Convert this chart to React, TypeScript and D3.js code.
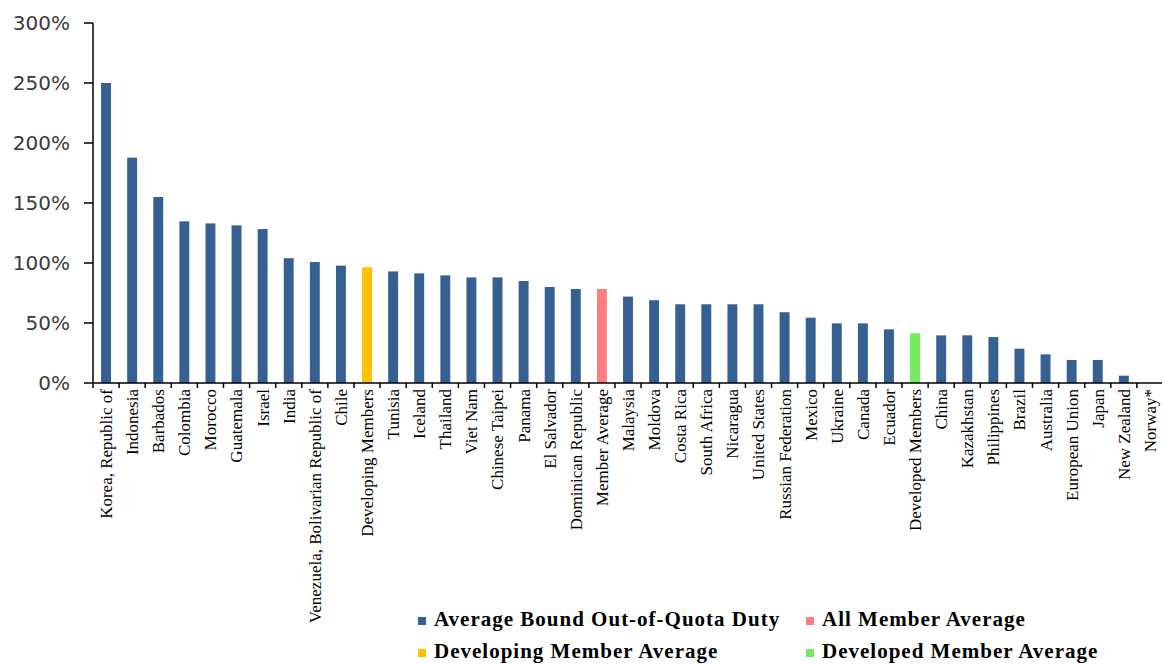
import * as d3 from 'd3';

const categories = [
  'Korea, Republic of', 'Indonesia', 'Barbados', 'Colombia', 'Morocco', 'Guatemala', 'Israel',
  'India', 'Venezuela, Bolivarian Republic of', 'Chile', 'Developing Members', 'Tunisia', 'Iceland',
  'Thailand', 'Viet Nam', 'Chinese Taipei', 'Panama', 'El Salvador', 'Dominican Republic',
  'Member Average', 'Malaysia', 'Moldova', 'Costa Rica', 'South Africa', 'Nicaragua',
  'United States', 'Russian Federation', 'Mexico', 'Ukraine', 'Canada', 'Ecuador',
  'Developed Members', 'China', 'Kazakhstan', 'Philippines', 'Brazil', 'Australia',
  'European Union', 'Japan', 'New Zealand', 'Norway*',
];

// average bound out-of-quota duty, percent
const duties = [
  250, 187.8, 155, 134.7, 133, 131.4, 128.3, 104, 100.8, 97.8, 96.4, 93, 91.4,
  89.7, 88, 88, 85, 80, 78.3, 78.3, 72, 69, 65.6, 65.6, 65.6, 65.6, 59, 54.4,
  49.7, 49.7, 44.7, 41.4, 39.7, 39.7, 38.3, 28.6, 23.9, 19.2, 19.2, 6.1, 0,
];

// which series each bar belongs to
const groups = [
  'duty', 'duty', 'duty', 'duty', 'duty', 'duty', 'duty', 'duty', 'duty', 'duty', 'developing',
  'duty', 'duty', 'duty', 'duty', 'duty', 'duty', 'duty', 'duty', 'all', 'duty', 'duty', 'duty',
  'duty', 'duty', 'duty', 'duty', 'duty', 'duty', 'duty', 'duty', 'developed', 'duty', 'duty',
  'duty', 'duty', 'duty', 'duty', 'duty', 'duty', 'duty',
];

const yTicks = [0, 50, 100, 150, 200, 250, 300];

const legendItems = [
  { key: 'duty', label: 'Average Bound Out-of-Quota Duty' },
  { key: 'all', label: 'All Member Average' },
  { key: 'developing', label: 'Developing Member Average' },
  { key: 'developed', label: 'Developed Member Average' },
];

const colors: Record<string, string> = {
  duty: '#376092',
  all: '#ff7c80',
  developing: '#ffc000',
  developed: '#74ea5e',
};

const W = 1162;
const H = 664;

export default function App() {
  const x = d3.scaleBand<string>().domain(categories).range([93, 1163]).paddingInner(0.62).paddingOuter(0.31);
  const y = d3.scaleLinear().domain([0, 300]).range([383, 23]);
  const step = x.step();
  const x0 = x.range()[0];

  return (
    <div style={{ position: 'absolute', left: 0, top: 0 }}>
      <svg width={W} height={H} style={{ display: 'block', background: '#fff' }}>
        {categories.map((c, i) => (
          <rect
            key={c}
            x={x(c)}
            y={y(duties[i])}
            width={x.bandwidth()}
            height={y(0) - y(duties[i])}
            fill={colors[groups[i]]}
          />
        ))}

        {/* y axis */}
        <line x1={93} x2={93} y1={y(300)} y2={y(0)} stroke="#000" strokeWidth={1.5} />
        {yTicks.map((t) => (
          <g key={t}>
            <line x1={84} x2={93} y1={y(t)} y2={y(t)} stroke="#000" strokeWidth={1.5} />
            <text
              x={70}
              y={y(t)}
              dy="0.35em"
              textAnchor="end"
              fontFamily="DejaVu Sans"
              fontSize={20}
              fill="#3a3a3a"
            >
              {t}%
            </text>
          </g>
        ))}

        {/* x axis */}
        <line x1={93} x2={W} y1={y(0)} y2={y(0)} stroke="#000" strokeWidth={1.5} />
        {d3.range(categories.length + 1).map((k) => (
          <line
            key={k}
            x1={x0 + k * step}
            x2={x0 + k * step}
            y1={y(0)}
            y2={y(0) + 5}
            stroke="#000"
            strokeWidth={1.5}
          />
        ))}
        {categories.map((c) => (
          <text
            key={c}
            transform={`translate(${(x(c) ?? 0) + x.bandwidth() / 2},${y(0) + 6}) rotate(-90)`}
            dy="0.35em"
            textAnchor="end"
            fontFamily="Liberation Serif"
            fontSize={17}
            fill="#000"
          >
            {c}
          </text>
        ))}

        {/* legend */}
        {legendItems.map((d, i) => {
          const lx = i % 2 === 0 ? 418 : 806;
          const ly = i < 2 ? 626 : 658;
          return (
            <g key={d.key}>
              <rect x={lx} y={ly - 9} width={8} height={8} fill={colors[d.key]} />
              <text
                x={lx + 16}
                y={ly}
                fontFamily="Liberation Serif"
                fontWeight="bold"
                fontSize={21}
                letterSpacing={1}
                fill="#000"
              >
                {d.label}
              </text>
            </g>
          );
        })}
      </svg>
    </div>
  );
}
